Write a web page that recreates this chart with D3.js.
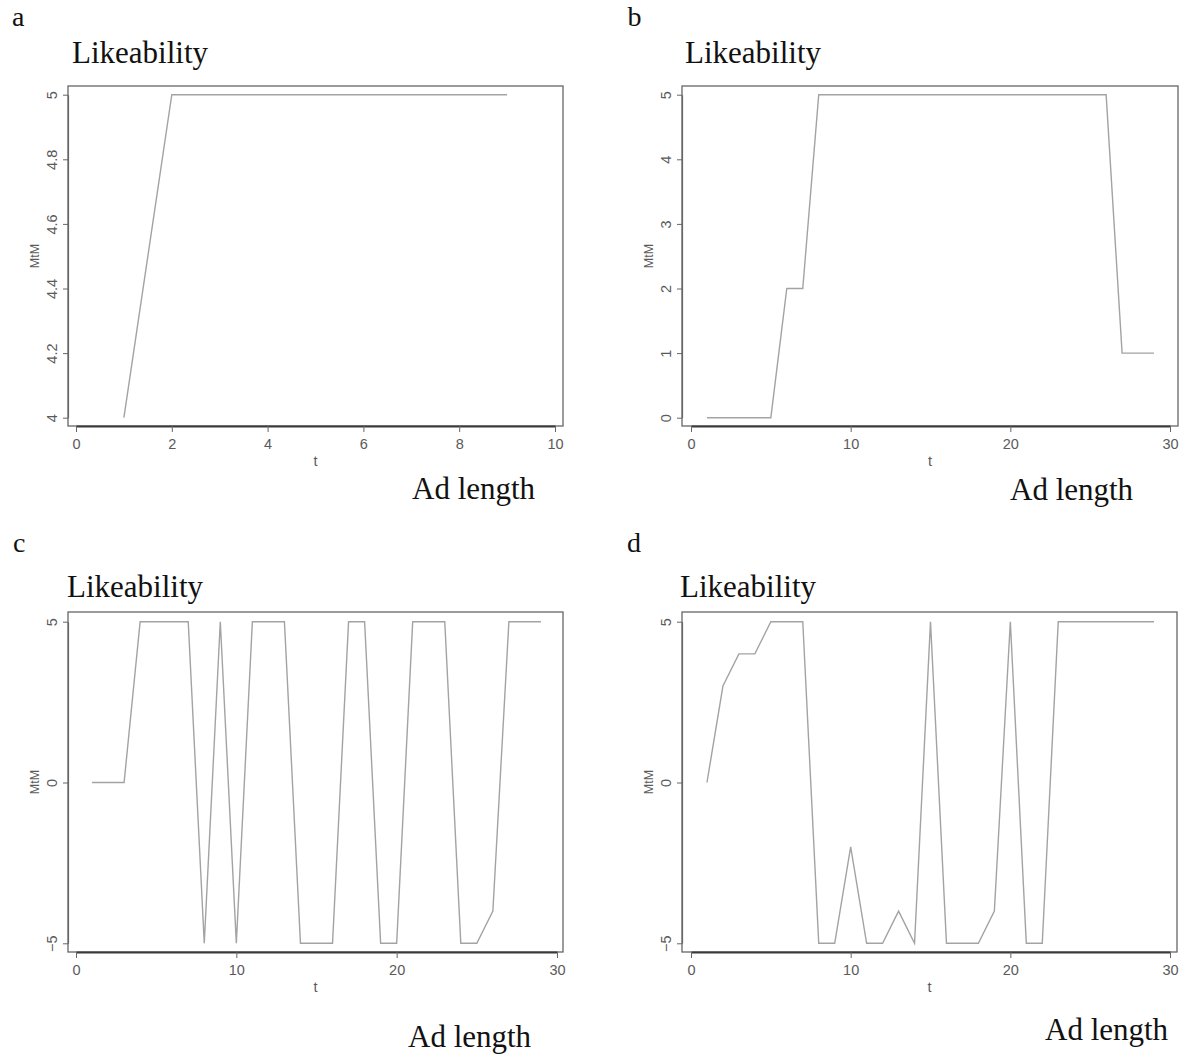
<!DOCTYPE html>
<html>
<head>
<meta charset="utf-8">
<script src="https://cdn.jsdelivr.net/npm/d3@7"></script>
<style>
  body { margin: 0; background: #fff; }
  svg { display: block; }
</style>
</head>
<body>
<div id="chart"></div>
<script>
// values (t = second of the ad, MtM = moment-to-moment score)
const tA = [1, 2, 3, 4, 5, 6, 7, 8, 9]
const mtmA = [4, 5, 5, 5, 5, 5, 5, 5, 5]

const tLong = [1, 2, 3, 4, 5, 6, 7, 8, 9, 10, 11, 12, 13, 14, 15, 16, 17, 18, 19, 20, 21, 22, 23, 24, 25, 26, 27, 28, 29]
const mtmB = [0, 0, 0, 0, 0, 2, 2, 5, 5, 5, 5, 5, 5, 5, 5, 5, 5, 5, 5, 5, 5, 5, 5, 5, 5, 5, 1, 1, 1]
const mtmC = [0, 0, 0, 5, 5, 5, 5, -5, 5, -5, 5, 5, 5, -5, -5, -5, 5, 5, -5, -5, 5, 5, 5, -5, -5, -4, 5, 5, 5]
const mtmD = [0, 3, 4, 4, 5, 5, 5, -5, -5, -2, -5, -5, -4, -5, 5, -5, -5, -5, -4, 5, -5, -5, 5, 5, 5, 5, 5, 5, 5]

const xTicksA = [0, 2, 4, 6, 8, 10]
const yTicksA = [4, 4.2, 4.4, 4.6, 4.8, 5]
const xTicksLong = [0, 10, 20, 30]
const yTicksB = [0, 1, 2, 3, 4, 5]
const yTicksCD = [-5, 0, 5]

const panelLetters = ["a", "b", "c", "d"]
const panelTitle = "Likeability"
const xTitle = "Ad length"
const axisXLabel = "t"
const axisYLabel = "MtM"

// layout of each panel (pixels)
const layout = [
  { t: tA, v: mtmA, xd: [0, 10], xr: [76, 555], yd: [4, 5], yr: [417.7, 94.7], xt: xTicksA, yt: yTicksA,
    box: [68, 563, 86, 426], letter: [12, 26], title: [72, 63], adlen: [412, 499] },
  { t: tLong, v: mtmB, xd: [0, 30], xr: [691, 1170], yd: [0, 5], yr: [417.7, 94.7], xt: xTicksLong, yt: yTicksB,
    box: [682, 1178, 86, 426], letter: [627.5, 26], title: [685, 63], adlen: [1010, 500] },
  { t: tLong, v: mtmC, xd: [0, 30], xr: [76, 557], yd: [-5, 5], yr: [943.3, 621.7], xt: xTicksLong, yt: yTicksCD,
    box: [68, 563, 612, 952], letter: [13, 552], title: [67, 597], adlen: [408, 1047] },
  { t: tLong, v: mtmD, xd: [0, 30], xr: [691, 1170], yd: [-5, 5], yr: [943.3, 621.7], xt: xTicksLong, yt: yTicksCD,
    box: [682, 1177, 612, 952], letter: [627, 552], title: [680, 597], adlen: [1045, 1040] }
]

const width = 1185
const height = 1055
const serif = "'Liberation Serif', 'Times New Roman', serif"
const sans = "'Liberation Sans', Arial, Helvetica, sans-serif"

const svg = d3.select("#chart")
  .append("svg")
  .attr("width", width)
  .attr("height", height)

layout.forEach((p, i) => {
  const g = svg.append("g")
  const [bx0, bx1, by0, by1] = p.box

  const x = d3.scaleLinear().domain(p.xd).range(p.xr)
  const y = d3.scaleLinear().domain(p.yd).range(p.yr)

  // plot frame
  g.append("rect")
    .attr("x", bx0)
    .attr("y", by0)
    .attr("width", bx1 - bx0)
    .attr("height", by1 - by0)
    .attr("fill", "none")
    .attr("stroke", "#666")
    .attr("stroke-width", 1.3)

  // x axis
  const xAxis = g.append("g")
    .attr("transform", `translate(0,${by1})`)
    .call(d3.axisBottom(x).tickValues(p.xt).tickSize(6).tickSizeOuter(0).tickFormat(d3.format("")))
  xAxis.attr("font-size", null).attr("font-family", null)
  xAxis.select(".domain").attr("stroke", "#3a3a3a").attr("stroke-width", 1.8)
  xAxis.selectAll(".tick line").attr("stroke", "#666").attr("stroke-width", 1)
  xAxis.selectAll(".tick text")
    .attr("y", 23)
    .attr("dy", null)
    .attr("fill", "#5a5a5a")
    .style("font-family", sans)
    .style("font-size", "14.5px")

  // y axis, labels parallel to the axis like R's las = 0
  const yAxis = g.append("g")
    .attr("transform", `translate(${bx0},0)`)
    .call(d3.axisLeft(y).tickValues(p.yt).tickSize(5).tickSizeOuter(0).tickFormat(d3.format("")))
  yAxis.attr("font-size", null).attr("font-family", null)
  yAxis.select(".domain").attr("stroke", "#666").attr("stroke-width", 1.2)
  yAxis.selectAll(".tick line").attr("stroke", "#666").attr("stroke-width", 1)
  yAxis.selectAll(".tick text")
    .attr("x", 0)
    .attr("y", -11)
    .attr("dy", null)
    .attr("transform", "rotate(-90)")
    .attr("text-anchor", "middle")
    .attr("fill", "#5a5a5a")
    .style("font-family", sans)
    .style("font-size", "14.5px")

  // axis titles
  g.append("text")
    .attr("x", (bx0 + bx1) / 2)
    .attr("y", by1 + 40)
    .attr("text-anchor", "middle")
    .attr("fill", "#5a5a5a")
    .style("font-family", sans)
    .style("font-size", "14.5px")
    .text(axisXLabel)

  g.append("text")
    .attr("transform", `translate(${bx0 - 29},${(by0 + by1) / 2}) rotate(-90)`)
    .attr("text-anchor", "middle")
    .attr("fill", "#5a5a5a")
    .style("font-family", sans)
    .style("font-size", "12.5px")
    .text(axisYLabel)

  // the series
  const line = d3.line()
    .x((d, j) => x(p.t[j]))
    .y(d => y(d))

  g.append("path")
    .datum(p.v)
    .attr("d", line)
    .attr("fill", "none")
    .attr("stroke", "#a3a3a3")
    .attr("stroke-width", 1.4)
    .attr("stroke-linejoin", "miter")

  // panel letter, title and x caption
  g.append("text")
    .attr("x", p.letter[0])
    .attr("y", p.letter[1])
    .attr("fill", "#111")
    .style("font-family", serif)
    .style("font-size", "28px")
    .text(panelLetters[i])

  g.append("text")
    .attr("x", p.title[0])
    .attr("y", p.title[1])
    .attr("fill", "#111")
    .style("font-family", serif)
    .style("font-size", "31px")
    .text(panelTitle)

  g.append("text")
    .attr("x", p.adlen[0])
    .attr("y", p.adlen[1])
    .attr("fill", "#111")
    .style("font-family", serif)
    .style("font-size", "31px")
    .text(xTitle)
})
</script>
</body>
</html>
